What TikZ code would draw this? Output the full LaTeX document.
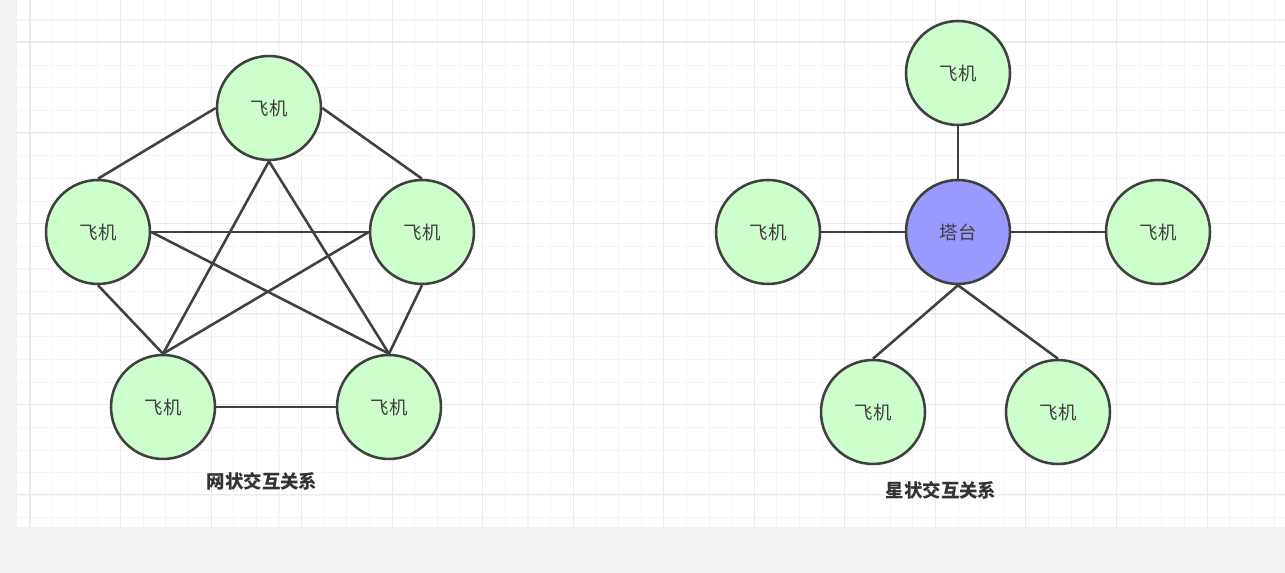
\documentclass[tikz,border=0pt]{standalone}
\usepackage{fontspec}
\newfontfamily\cjk{Noto Sans CJK SC}
\definecolor{leaf}{RGB}{204,255,204}
\definecolor{iris}{RGB}{153,153,255}
\definecolor{ink}{RGB}{64,64,64}
\definecolor{paper}{RGB}{242,242,242}
\definecolor{gridminor}{RGB}{245,245,245}
\definecolor{gridmajor}{RGB}{234,234,234}

\begin{document}
\begin{tikzpicture}[x=0.02cm,y=-0.02cm,
  plane/.style={circle,draw=ink,line width=1.45pt,fill=leaf,minimum size=2.08cm,
    inner sep=0pt,text=ink,font=\cjk\fontsize{10.5}{12}\selectfont},
  tower/.style={plane,fill=iris},
  link/.style={draw=ink,line width=1.45pt},
  caption/.style={text=black!80,font=\cjk\bfseries\fontsize{10.5}{12}\selectfont}]
  \useasboundingbox (0,0) rectangle (1285,573);
  % page and grid
  \fill[paper] (0,0) rectangle (1285,573);
  \fill[white] (17,0) rectangle (1285,527);
  \foreach \gx in {0,...,55}
    \draw[gridminor,line width=0.6pt] ({30+22.635*\gx},0) -- ({30+22.635*\gx},527);
  \foreach \gy in {0,...,22}
    \draw[gridminor,line width=0.6pt] (17,{20+22.635*\gy}) -- (1285,{20+22.635*\gy});
  \foreach \gx in {0,...,13}
    \draw[gridmajor,line width=0.6pt] ({30+90.54*\gx},0) -- ({30+90.54*\gx},527);
  \foreach \gy in {0,...,5}
    \draw[gridmajor,line width=0.6pt] (17,{42+90.54*\gy}) -- (1285,{42+90.54*\gy});

  % mesh
  \node[plane] (mTop) at (269,108) {飞机};
  \node[plane] (mLeft) at (98,232) {飞机};
  \node[plane] (mRight) at (422,232) {飞机};
  \node[plane] (mLowL) at (163,407) {飞机};
  \node[plane] (mLowR) at (389,407) {飞机};
  \draw[link] (mTop.west) -- (mLeft.north);
  \draw[link] (mTop.east) -- (mRight.north);
  \draw[link] (mTop.south) -- (mLowL.north);
  \draw[link] (mTop.south) -- (mLowR.north);
  \draw[link] (mLeft.east) -- (mRight.west);
  \draw[link] (mLeft.east) -- (mLowR.north);
  \draw[link] (mLeft.south) -- (mLowL.north);
  \draw[link] (mRight.west) -- (mLowL.north);
  \draw[link] (mRight.south) -- (mLowR.north);
  \draw[link] (mLowL.east) -- (mLowR.west);
  \node[caption] (meshCap) at (262,481) {网状交互关系};

  % star
  \node[tower] (tower) at (958,232) {塔台};
  \node[plane] (sTop) at (958,73) {飞机};
  \node[plane] (sLeft) at (768,232) {飞机};
  \node[plane] (sRight) at (1158,232) {飞机};
  \node[plane] (sLowL) at (873,412) {飞机};
  \node[plane] (sLowR) at (1058,412) {飞机};
  \draw[link] (tower.north) -- (sTop.south);
  \draw[link] (sLeft.east) -- (tower.west);
  \draw[link] (tower.east) -- (sRight.west);
  \draw[link] (tower.south) -- (sLowL.north);
  \draw[link] (tower.south) -- (sLowR.north);
  \node[caption] (starCap) at (941,490) {星状交互关系};
\end{tikzpicture}
\end{document}
